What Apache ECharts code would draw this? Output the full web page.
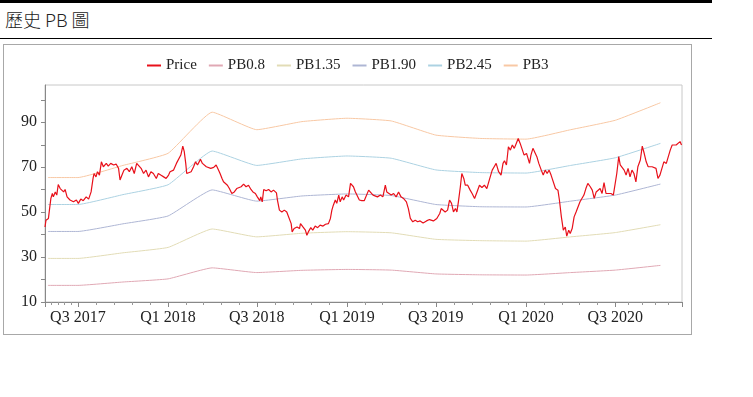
<!DOCTYPE html>
<html>
<head>
<meta charset="utf-8">
<script src="https://cdn.jsdelivr.net/npm/echarts@6/dist/echarts.min.js"></script>
<style>
  html, body { margin: 0; padding: 0; background: #fff; }
  body { width: 753px; height: 397px; position: relative; overflow: hidden; }
  .topbar { position: absolute; left: 0; top: 0; width: 712px; height: 3px; background: #000; }
  .title { position: absolute; left: 5px; top: 9px; font: 300 18px/20px "Noto Sans CJK TC", "Noto Sans", sans-serif; color: #222; }
  .rule { position: absolute; left: 0; top: 38px; width: 712px; height: 1px; background: #000; }
  #chart { position: absolute; left: 3px; top: 44px; width: 687px; height: 289px; border: 1px solid #a8a8a8; }
</style>
</head>
<body>
<div class="topbar"></div>
<div class="title">歷史 PB 圖</div>
<div class="rule"></div>
<div id="chart"></div>
<script>
// price: days counted from 2017-07-01
const priceDays = [
  -67,-65,-60,-58,-55,-52,-50,-46,-43,-40,-36,-33,-29,-26,-22,-19,-16,-12,-9,-3,
  1,6,11,17,22,27,31,33,37,40,44,48,52,58,62,67,73,78,83,86,
  90,94,100,105,110,115,120,124,129,134,139,144,149,154,160,164,169,175,180,185,
  188,195,201,205,210,214,217,220,222,226,231,236,240,244,250,254,258,262,266,271,
  277,282,287,290,294,297,301,305,309,314,319,324,328,333,338,343,348,353,357,362,
  366,371,373,376,379,384,389,394,399,405,407,411,416,421,426,430,435,437,441,447,452,
  454,459,464,467,470,475,479,484,489,494,500,505,511,515,518,521,525,528,532,535,
  539,542,547,552,556,559,562,566,570,574,579,584,588,593,596,602,606,611,617,622,
  627,630,634,639,644,649,654,659,664,670,674,678,683,688,693,698,704,711,717,
  725,732,738,741,745,749,754,758,762,766,770,773,776,780,783,787,790,795,800,804,
  809,814,819,824,829,834,840,845,849,853,858,863,867,870,874,878,882,886,890,894,
  898,902,906,910,915,917,921,924,928,932,936,940,945,949,953,957,961,965,969,
  974,979,982,986,990,994,997,1001,1004,1008,1012,1016,1020,1024,1028,1032,1036,1040,1045,1049,
  1053,1057,1061,1065,1069,1073,1077,1081,1087,1092,1096,1099,1103,1106,1110,1114,1118,1122,1126,1130,
  1134,1138,1142,1147,1151,1155,1159,1163,1167,1171,1175,1179,1183,1187,1191,1195,1200,1204,1208,1212,
  1216,1220,1224,1228,1231
];
const priceValues = [
  43.4,46.4,47.2,50.9,56.1,58.3,56.8,59.0,57.6,62.3,60.5,61.3,59.0,60.1,56.8,57.6,55.4,56.1,54.6,55.4,
  53.9,55.8,55.1,56.8,55.8,59.0,65.0,67.2,65.7,68.0,66.5,72.4,70.2,71.7,70.5,71.7,71.0,71.4,69.5,64.3,
  66.5,68.7,69.5,68.0,70.2,67.2,71.7,72.4,69.5,67.2,68.7,65.7,68.0,67.2,65.0,67.2,66.5,65.7,65.0,66.5,
  68.0,68.7,71.7,72.4,75.4,79.4,76.9,71.7,67.2,66.5,68.0,70.2,72.4,71.0,73.5,71.7,72.4,70.2,71.0,69.5,
  69.9,71.0,68.7,67.2,65.0,63.5,64.3,62.0,60.5,58.3,59.0,60.5,59.8,61.3,62.5,61.3,62.0,60.1,59.0,58.3,
  56.8,55.1,56.8,54.6,60.1,59.5,60.1,59.0,59.8,58.6,55.4,50.9,50.1,50.9,50.1,50.9,44.9,41.2,42.7,43.4,42.7,
  44.9,43.4,42.0,39.7,41.2,43.1,42.0,43.8,43.1,44.2,43.8,44.6,44.9,47.2,50.9,53.1,55.4,53.9,57.6,54.6,
  56.8,55.4,57.6,56.8,62.8,63.1,61.3,59.0,58.3,55.4,55.1,55.1,55.4,59.8,59.0,57.6,58.3,56.8,57.6,56.8,
  62.0,59.0,59.8,57.6,58.3,56.8,59.0,56.8,56.1,54.6,51.6,47.2,45.7,46.4,45.7,46.1,45.2,46.1,46.7,
  46.1,47.2,49.4,51.6,50.9,50.1,50.9,55.4,53.9,50.1,51.6,50.1,54.6,61.3,67.2,65.0,62.0,62.0,59.8,58.3,
  56.1,59.0,62.0,61.0,62.0,60.5,65.0,68.7,70.2,71.7,68.0,66.5,71.7,72.9,71.0,79.1,77.6,79.9,78.4,80.6,
  82.8,80.6,79.9,75.4,76.1,74.7,71.7,75.4,78.4,77.6,74.7,71.7,68.7,66.5,68.7,67.2,68.7,66.5,65.7,
  60.5,59.8,55.4,47.9,42.0,43.4,39.3,42.0,40.5,42.7,47.9,50.1,50.9,54.6,55.4,57.6,60.5,62.8,61.3,59.8,
  56.1,59.0,59.0,60.5,58.3,63.1,58.3,59.0,58.3,57.6,57.6,67.2,74.7,71.0,71.7,68.7,66.5,69.5,65.7,68.7,
  67.2,63.5,70.2,73.2,79.4,76.1,72.4,70.2,71.0,70.2,71.0,69.5,65.0,66.5,67.2,72.4,71.7,71.0,77.6,79.9,
  79.1,79.9,79.1,81.4,79.9
];

// PB bands, quarterly
const pbDates = ['2017-05-01','2017-07-01','2017-10-01','2018-01-01','2018-04-01','2018-07-01','2018-10-01',
  '2019-01-01','2019-04-01','2019-07-01','2019-10-01','2020-01-01','2020-04-01','2020-07-01','2020-10-01'];
const pb080 = [17.4,17.4,18.9,20.3,25.2,23.1,24.1,24.5,24.2,22.5,22.1,22.0,23.1,24.2,26.3];
const pb135 = [29.4,29.4,31.9,34.3,42.5,39.0,40.6,41.3,40.8,37.9,37.3,37.1,39.0,40.9,44.4];
const pb190 = [41.4,41.4,44.8,48.3,59.9,54.9,57.2,58.1,57.4,53.4,52.4,52.3,54.9,57.6,62.5];
const pb245 = [53.4,53.4,57.8,62.2,77.2,70.8,73.7,75.0,74.0,68.8,67.6,67.4,70.8,74.2,80.6];
const pb300 = [65.4,65.4,70.8,76.2,94.5,86.7,90.3,91.8,90.6,84.3,82.8,82.5,86.7,90.9,98.7];

const seriesNames = ['Price', 'PB0.8', 'PB1.35', 'PB1.90', 'PB2.45', 'PB3'];
const priceColor = '#e8101a';
const bandColors = ['#e0a8b4', '#e2dcb6', '#aeb6d4', '#acd2e2', '#f8c8a4'];

const DAY = 86400000;
const base = new Date(2017, 6, 1).getTime();
const toTime = d => base + d * DAY;

const chart = echarts.init(document.getElementById('chart'));
const serif = '"Liberation Serif", "Times New Roman", serif';

const bands = [pb080, pb135, pb190, pb245, pb300].map((vals, i) => ({
  name: seriesNames[i + 1],
  type: 'line',
  data: pbDates.map((d, j) => [d, vals[j]]),
  smooth: 0.12,
  symbol: 'none',
  lineStyle: { width: 1, color: bandColors[i] },
  itemStyle: { color: bandColors[i] },
  z: 2
}));

const option = {
  animation: false,
  legend: {
    top: 8,
    left: 138,
    icon: 'rect',
    itemWidth: 14,
    itemHeight: 2,
    itemGap: 12,
    textStyle: { fontFamily: serif, fontSize: 15, color: '#222' },
    data: seriesNames
  },
  grid: { left: 41, top: 40, width: 637, height: 217, show: true, borderColor: '#c8c8c8', borderWidth: 1 },
  xAxis: {
    type: 'time',
    min: toTime(-67),
    max: toTime(1232),
    minInterval: 181 * DAY,
    maxInterval: 184 * DAY,
    axisLine: { lineStyle: { color: '#888' } },
    axisTick: { length: 5, lineStyle: { color: '#888' } },
    minorTick: { show: true, splitNumber: 5, length: 3, lineStyle: { color: '#999' } },
    splitLine: { show: false },
    axisLabel: {
      fontFamily: serif, fontSize: 16, color: '#222', margin: 8,
      showMinLabel: false, showMaxLabel: false,
      formatter: function (val) {
        const d = new Date(val);
        if (d.getDate() !== 1) return '';
        if (d.getMonth() === 0) return 'Q1 ' + d.getFullYear();
        if (d.getMonth() === 6) return 'Q3 ' + d.getFullYear();
        return '';
      }
    }
  },
  yAxis: {
    type: 'value',
    min: 10,
    max: 106.6,
    interval: 10,
    axisLine: { show: true, lineStyle: { color: '#888' } },
    axisTick: { show: true, length: 4, lineStyle: { color: '#888' } },
    splitLine: { show: false },
    axisLabel: {
      fontFamily: serif, fontSize: 16, color: '#222', margin: 8,
      showMaxLabel: false,
      formatter: v => ((v - 10) % 20 === 0 && v < 100) ? String(v) : ''
    }
  },
  series: [
    {
      name: 'Price',
      type: 'line',
      data: priceDays.map((d, i) => [toTime(d), priceValues[i]]),
      symbol: 'none',
      lineStyle: { width: 1.2, color: priceColor },
      itemStyle: { color: priceColor },
      z: 3
    }
  ].concat(bands)
};

chart.setOption(option);
</script>
</body>
</html>
